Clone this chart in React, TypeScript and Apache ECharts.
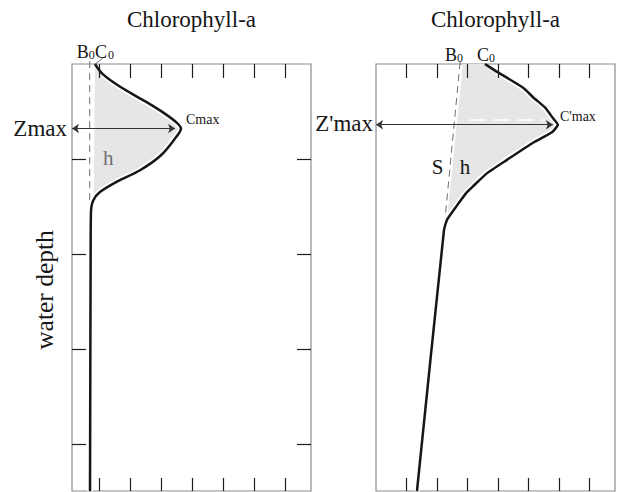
import { useEffect, useRef } from 'react';
import * as echarts from 'echarts';

// Axis extents in tick units (one tick spacing = 1 unit on both axes)
const X_MAX = 7.7;
const DEPTH_MAX = 4.5;

const leftTicksX = [0.87, 1.87, 2.87, 3.87, 4.87, 5.87, 6.87];
const rightTicksX = [0.97, 1.95, 2.93, 3.92, 4.9, 5.88, 6.87];
const depthTicks = [1, 2, 3, 4];

// Left profile: [chlorophyll-a, depth] — subsurface maximum over a constant background B0
const leftProfile: number[][] = [
  [0.74, 0.0], [1.0, 0.11], [1.55, 0.24], [2.29, 0.38], [2.93, 0.51], [3.38, 0.62],
  [3.51, 0.68], [3.33, 0.78], [2.84, 0.97], [2.19, 1.12], [1.45, 1.24], [0.9, 1.35],
  [0.68, 1.44], [0.61, 1.57], [0.6, 2.07], [0.58, 4.5],
];
const leftBackground: number[][] = [[0.57, -0.03], [0.57, 1.5]];
const leftFillEdge: number[][] = [[0.7, 1.42], [0.74, 0.0]];
const leftPeakIndex = 6;
const leftZmax = 0.68;
const leftArrowEnd = 3.32;

// Right profile: maximum over a background that declines linearly with depth (slope S)
const rightProfile: number[][] = [
  [3.51, 0.0], [3.89, 0.08], [4.74, 0.25], [5.06, 0.35], [5.45, 0.46], [5.7, 0.57],
  [5.86, 0.64], [5.67, 0.72], [5.06, 0.83], [4.22, 1.01], [3.58, 1.15], [3.09, 1.3],
  [2.93, 1.35], [2.61, 1.49], [2.29, 1.64], [2.19, 1.75], [1.32, 4.5],
];
const rightSlope: number[][] = [[2.71, -0.02], [2.19, 1.75]];
const rightFillEdge: number[][] = [[2.8, 0.0]];
const rightFillMark: number[][] = [[3.03, 0.59], [5.45, 0.59]];
const rightPeakIndex = 6;
const rightZmax = 0.64;
const rightArrowEnd = 5.7;

const SERIF = '"Liberation Serif", "DejaVu Serif", "Times New Roman", serif';
const INK = '#161616';
const FILL = '#e6e6e6';
const TICK = { stroke: '#1e1e1e', lineWidth: 1.2 };

const leftFill = [...leftProfile.filter((p) => p[1] <= 1.36), ...leftFillEdge];
const rightFill = [...rightProfile.filter((p) => p[1] <= 1.64), ...rightFillEdge];

const hiddenAxis = {
  axisLine: { show: false }, axisLabel: { show: false },
  splitLine: { show: false }, axisTick: { show: false },
};

const xAxis = (gridIndex: number) => ({ type: 'value', gridIndex, min: 0, max: X_MAX, ...hiddenAxis });
const yAxis = (gridIndex: number) => ({
  type: 'value', gridIndex, inverse: true, min: 0, max: DEPTH_MAX, interval: 1, ...hiddenAxis,
});

// inward ticks on both opposite edges of a panel frame
const tickSeries = (axis: number, values: number[], dir: 'x' | 'y') => ({
  type: 'custom', xAxisIndex: axis, yAxisIndex: axis, silent: true, z: 5, clip: false,
  data: values.map((v) => (dir === 'x' ? [v, 0] : [0, v])),
  renderItem: (params: any, api: any) => {
    const cs = params.coordSys;
    if (dir === 'x') {
      const x = Math.round(api.coord([api.value(0), 0])[0]) + 0.5;
      const top = cs.y;
      const bottom = cs.y + cs.height;
      return {
        type: 'group',
        children: [
          { type: 'line', shape: { x1: x, y1: top, x2: x, y2: top + 14 }, style: TICK },
          { type: 'line', shape: { x1: x, y1: bottom, x2: x, y2: bottom - 13 }, style: TICK },
        ],
      };
    }
    const y = Math.round(api.coord([0, api.value(1)])[1]) + 0.5;
    const left = cs.x;
    const right = cs.x + cs.width;
    return {
      type: 'group',
      children: [
        { type: 'line', shape: { x1: left, y1: y, x2: left + 14, y2: y }, style: TICK },
        { type: 'line', shape: { x1: right, y1: y, x2: right - 14, y2: y }, style: TICK },
      ],
    };
  },
});

const fillSeries = (axis: number, poly: number[][]) => ({
  type: 'custom', xAxisIndex: axis, yAxisIndex: axis, silent: true, z: 1,
  data: [poly[0]],
  renderItem: (_p: any, api: any) => ({
    type: 'polygon',
    shape: { points: poly.map((p) => api.coord(p)) },
    style: { fill: FILL },
  }),
});

const lineSeries = (axis: number, data: number[][], extra: any) => ({
  type: 'line', xAxisIndex: axis, yAxisIndex: axis, data,
  symbol: 'none', showSymbol: false, silent: true, clip: false,
  ...extra,
});

const arrow = (zmax: number, end: number) => ({
  silent: true,
  symbol: ['arrow', 'arrow'],
  symbolSize: 7,
  label: { show: false },
  emphasis: { disabled: true },
  lineStyle: { color: '#333', width: 1, type: 'solid' },
  data: [[{ coord: [0, zmax] }, { coord: [end, zmax] }]],
});

const gridBox = { show: true, borderColor: '#8c8c8c', borderWidth: 1.2, top: 64, height: 427, width: 239 };

const option: any = {
  animation: false,
  grid: [
    { ...gridBox, left: 72 },
    { ...gridBox, left: 376 },
  ],
  xAxis: [xAxis(0), xAxis(1)],
  yAxis: [yAxis(0), yAxis(1)],
  series: [
    fillSeries(0, leftFill),
    lineSeries(0, leftBackground, {
      z: 2,
      lineStyle: { color: '#6e6e6e', width: 1, type: [7, 5] },
      markLine: arrow(leftZmax, leftArrowEnd),
    }),
    lineSeries(0, leftProfile.slice(1), { z: 3, smooth: 0.35, lineStyle: { color: '#fff', width: 6 } }),
    lineSeries(0, leftProfile, { z: 4, smooth: 0.35, lineStyle: { color: INK, width: 2.5 } }),
    tickSeries(0, leftTicksX, 'x'),
    tickSeries(0, depthTicks, 'y'),

    fillSeries(1, rightFill),
    lineSeries(1, rightFillMark, { z: 2, lineStyle: { color: '#fff', width: 1.5, type: [16, 8] } }),
    lineSeries(1, rightSlope, {
      z: 2,
      lineStyle: { color: '#6e6e6e', width: 1, type: [7, 5] },
      markLine: arrow(rightZmax, rightArrowEnd),
    }),
    lineSeries(1, rightProfile.slice(1), { z: 3, smooth: 0.15, lineStyle: { color: '#fff', width: 6 } }),
    lineSeries(1, rightProfile, { z: 4, smooth: 0.15, lineStyle: { color: INK, width: 2.5 } }),
    tickSeries(1, rightTicksX, 'x'),
  ],
};

// text placed by its baseline (svg text is centred on the em box)
const text = (x: number, baseline: number, str: string, size: number, align = 'left', color = INK) => ({
  type: 'text', x, y: baseline - 0.3375 * size, silent: true, z: 10,
  style: {
    text: str, fontSize: size, fontFamily: SERIF, fill: color,
    align, textAlign: align, verticalAlign: 'middle', textVerticalAlign: 'middle',
  },
});

export default function App() {
  const ref = useRef<HTMLDivElement>(null);

  useEffect(() => {
    if (!ref.current) return;
    const chart = echarts.init(ref.current, null, { renderer: 'svg' });
    chart.setOption(option);

    const px = (axis: number, p: number[]) =>
      chart.convertToPixel({ xAxisIndex: axis, yAxisIndex: axis } as any, p) as number[];

    const lz = px(0, [0, leftZmax]);
    const lPeak = px(0, leftProfile[leftPeakIndex]);
    const lB0 = px(0, [leftBackground[1][0], 0]);
    const lC0 = px(0, leftProfile[0]);
    const lH = px(0, [1.0, 1.07]);

    const rz = px(1, [0, rightZmax]);
    const rPeak = px(1, rightProfile[rightPeakIndex]);
    const rB0 = px(1, [rightSlope[0][0], 0]);
    const rC0 = px(1, rightProfile[0]);
    const rS = px(1, [1.8, 1.16]);
    const rH = px(1, [2.7, 1.16]);

    chart.setOption({
      graphic: [
        text(191.5, 27, 'Chlorophyll-a', 23, 'center'),
        text(495.5, 27, 'Chlorophyll-a', 23, 'center'),
        {
          type: 'text', x: 44.7, y: 290, rotation: Math.PI / 2, silent: true,
          style: {
            text: 'water depth', fontSize: 25.5, fontFamily: SERIF, fill: INK,
            align: 'center', textAlign: 'center', verticalAlign: 'middle', textVerticalAlign: 'middle',
          },
        },
        // left panel annotations
        text(lz[0] - 5, lz[1] + 8, 'Zmax', 23, 'right'),
        text(lPeak[0] + 5, lPeak[1] - 4.5, 'Cmax', 14),
        text(lB0[0] - 13, lB0[1] - 6, 'B', 18),
        text(lB0[0] - 1, lB0[1] - 5, '0', 12),
        text(lC0[0], lC0[1] - 6, 'C', 18),
        text(lC0[0] + 13, lC0[1] - 5, '0', 12),
        {
          type: 'line', silent: true, z: 10,
          shape: { x1: lC0[0] - 1, y1: lC0[1] + 1, x2: lC0[0] + 8, y2: lC0[1] - 6 },
          style: { stroke: '#555', lineWidth: 0.8 },
        },
        text(lH[0], lH[1], 'h', 21, 'left', '#707070'),
        // right panel annotations
        text(rz[0] - 3, rz[1] + 7, "Z'max", 23, 'right'),
        text(rPeak[0] + 2, rPeak[1] - 4, "C'max", 14),
        text(rB0[0] - 15, rB0[1] - 3, 'B', 18),
        text(rB0[0] - 3, rB0[1] - 2, '0', 12),
        text(rC0[0] - 8, rC0[1] - 3, 'C', 18),
        text(rC0[0] + 4, rC0[1] - 2, '0', 12),
        text(rS[0], rS[1], 'S', 21),
        text(rH[0], rH[1], 'h', 21),
      ],
    });

    return () => chart.dispose();
  }, []);

  return (
    <div
      ref={ref}
      style={{ position: 'absolute', left: 0, top: 0, width: 620, height: 492, background: '#fff' }}
    />
  );
}
